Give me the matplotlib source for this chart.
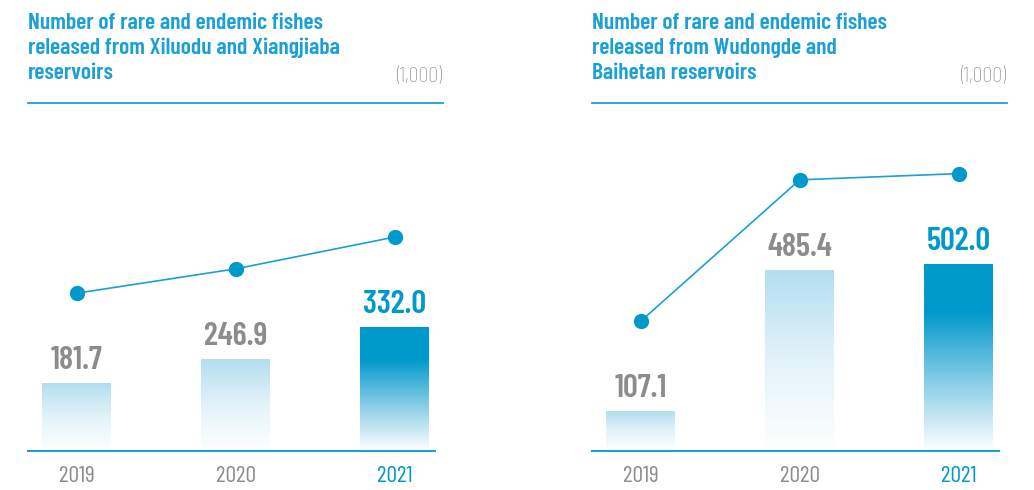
import matplotlib.pyplot as plt
import matplotlib.transforms as mtransforms
from matplotlib.colors import LinearSegmentedColormap
import numpy as np

years = ['2019', '2020', '2021']
xiluodu_xiangjiaba = [181.7, 246.9, 332.0]
wudongde_baihetan = [107.1, 485.4, 502.0]
titles = [
    ['Number of rare and endemic fishes', 'released from Xiluodu and Xiangjiaba', 'reservoirs'],
    ['Number of rare and endemic fishes', 'released from Wudongde and', 'Baihetan reservoirs'],
]
unit = '(1,000)'

BLUE = '#0099cc'
TITLE_BLUE = '#1aa0d4'
GREY = '#8c8c8c'

plt.rcParams['font.family'] = ['Barlow Condensed', 'DejaVu Sans']

light_cmap = LinearSegmentedColormap.from_list('light', ['#ffffff', '#e3f3f9', '#b2def0'])
dark_cmap = LinearSegmentedColormap.from_list(
    'dark', [(0.0, '#ffffff'), (0.35, '#8fd0e8'), (0.74, BLUE), (1.0, BLUE)])

fig = plt.figure(figsize=(10.34, 4.9), dpi=100)
W, H = 1034, 490


def draw_panel(left_px, values, title_lines):
    ax = fig.add_axes([left_px / W, (H - 451) / H, 407 / W, 321 / H])
    x = np.arange(len(values))
    width = 0.434
    bars = ax.bar(x, values, width=width, color='none', edgecolor='none', zorder=2)
    grad = np.linspace(0, 1, 256).reshape(-1, 1)
    for i, bar in enumerate(bars):
        cmap = dark_cmap if i == len(values) - 1 else light_cmap
        im = ax.imshow(grad, cmap=cmap, origin='lower', aspect='auto',
                       extent=[bar.get_x(), bar.get_x() + width, 0, bar.get_height()],
                       zorder=2)
        im.set_clip_path(bar)

    # trend line sits a fixed distance above the bars
    line_tr = mtransforms.offset_copy(ax.transData, fig=fig, x=0, y=90, units='dots')
    ax.plot(x, values, color=TITLE_BLUE, lw=1.2, marker='o', ms=10,
            mfc=BLUE, mec=BLUE, transform=line_tr, clip_on=False, zorder=3)

    for i, v in enumerate(values):
        last = i == len(values) - 1
        ax.annotate(f'{v:.1f}', (x[i], v), xytext=(0, 10), textcoords='offset points',
                    ha='center', va='baseline', fontsize=23.5, fontweight='semibold',
                    color=BLUE if last else GREY)

    ax.set_xlim(-0.308, 2.255)
    ax.set_ylim(0, 860)
    ax.set_xticks(x, years)
    ax.tick_params(axis='x', length=0, pad=11, labelsize=17, labelcolor=GREY)
    ax.get_xticklabels()[-1].set_color(BLUE)
    ax.set_yticks([])
    for side in ['top', 'left', 'right']:
        ax.spines[side].set_visible(False)
    ax.spines['bottom'].set_color(TITLE_BLUE)
    ax.spines['bottom'].set_linewidth(1.5)

    for k, line in enumerate(title_lines):
        fig.text(left_px / W, 1 - (29 + 25 * k) / H, line, ha='left', va='baseline',
                 fontsize=17, fontweight='semibold', color=TITLE_BLUE)
    fig.text((left_px + 414) / W, 1 - 76 / H, unit, ha='right', va='center',
             fontsize=16, fontweight='light', color=GREY)
    fig.add_artist(plt.Line2D([left_px / W, (left_px + 415) / W],
                              [1 - 103 / H, 1 - 103 / H], color=TITLE_BLUE, lw=1.3))


draw_panel(28, xiluodu_xiangjiaba, titles[0])
draw_panel(592, wudongde_baihetan, titles[1])

fig.savefig('out.png', dpi=100)
